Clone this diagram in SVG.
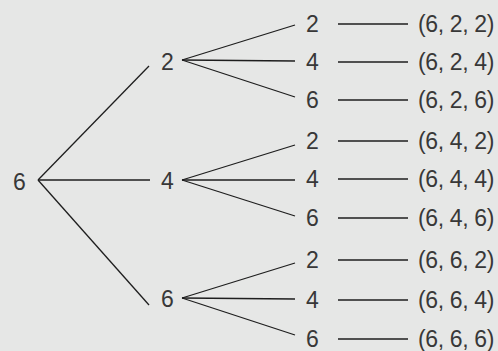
<svg xmlns="http://www.w3.org/2000/svg" width="498" height="351" viewBox="0 0 498 351">
  <style>
    .bg { fill: #e6e7e6; }
    .lbl { font-family: "Liberation Sans", Arial, sans-serif; font-size: 23px; fill: #383838; }
    .tup { letter-spacing: -0.35px; }
    .edge { stroke: #1e1e1e; stroke-width: 1.3; fill: none; stroke-linecap: butt; }
  </style>
  <rect class="bg" x="0" y="0" width="498" height="351"/>

  <!-- connectors -->
  <g id="connectors">
    <!-- root to second level -->
    <line class="edge" x1="38" y1="180" x2="149" y2="66"/>
    <line class="edge" x1="38" y1="180" x2="150" y2="180"/>
    <line class="edge" x1="38" y1="180" x2="149" y2="305"/>
    <!-- second level fans -->
    <line class="edge" x1="182" y1="60" x2="295" y2="25"/>
    <line class="edge" x1="182" y1="60" x2="295" y2="61"/>
    <line class="edge" x1="182" y1="60" x2="295" y2="97"/>
    <line class="edge" x1="182" y1="180" x2="295" y2="145"/>
    <line class="edge" x1="182" y1="180" x2="295" y2="180"/>
    <line class="edge" x1="182" y1="180" x2="295" y2="216"/>
    <line class="edge" x1="182" y1="298" x2="295" y2="263"/>
    <line class="edge" x1="182" y1="298" x2="295" y2="299"/>
    <line class="edge" x1="182" y1="298" x2="295" y2="335"/>
    <!-- leaves to outcomes -->
    <line class="edge" x1="338" y1="24" x2="408" y2="24"/>
    <line class="edge" x1="338" y1="62" x2="408" y2="62"/>
    <line class="edge" x1="338" y1="100" x2="408" y2="100"/>
    <line class="edge" x1="338" y1="141" x2="408" y2="141"/>
    <line class="edge" x1="338" y1="179" x2="408" y2="179"/>
    <line class="edge" x1="338" y1="218" x2="408" y2="218"/>
    <line class="edge" x1="338" y1="260" x2="408" y2="260"/>
    <line class="edge" x1="338" y1="300" x2="408" y2="300"/>
    <line class="edge" x1="338" y1="339" x2="408" y2="339"/>
  </g>

  <!-- first draw -->
  <g id="n-root"><text class="lbl" x="13" y="190">6</text></g>

  <!-- second draw -->
  <g id="n-2"><text class="lbl" x="161" y="70">2</text></g>
  <g id="n-4"><text class="lbl" x="161" y="189">4</text></g>
  <g id="n-6"><text class="lbl" x="161" y="307">6</text></g>

  <!-- third draw -->
  <g id="n-2-2"><text class="lbl" x="306" y="32">2</text></g>
  <g id="n-2-4"><text class="lbl" x="306" y="70">4</text></g>
  <g id="n-2-6"><text class="lbl" x="306" y="108">6</text></g>
  <g id="n-4-2"><text class="lbl" x="306" y="149">2</text></g>
  <g id="n-4-4"><text class="lbl" x="306" y="187">4</text></g>
  <g id="n-4-6"><text class="lbl" x="306" y="226">6</text></g>
  <g id="n-6-2"><text class="lbl" x="306" y="268">2</text></g>
  <g id="n-6-4"><text class="lbl" x="306" y="308">4</text></g>
  <g id="n-6-6"><text class="lbl" x="306" y="347">6</text></g>

  <!-- outcomes -->
  <g id="o-2-2"><text class="lbl tup" x="418" y="32">(6, 2, 2)</text></g>
  <g id="o-2-4"><text class="lbl tup" x="418" y="70">(6, 2, 4)</text></g>
  <g id="o-2-6"><text class="lbl tup" x="418" y="108">(6, 2, 6)</text></g>
  <g id="o-4-2"><text class="lbl tup" x="418" y="149">(6, 4, 2)</text></g>
  <g id="o-4-4"><text class="lbl tup" x="418" y="187">(6, 4, 4)</text></g>
  <g id="o-4-6"><text class="lbl tup" x="418" y="226">(6, 4, 6)</text></g>
  <g id="o-6-2"><text class="lbl tup" x="418" y="268">(6, 6, 2)</text></g>
  <g id="o-6-4"><text class="lbl tup" x="418" y="308">(6, 6, 4)</text></g>
  <g id="o-6-6"><text class="lbl tup" x="418" y="347">(6, 6, 6)</text></g>
</svg>
